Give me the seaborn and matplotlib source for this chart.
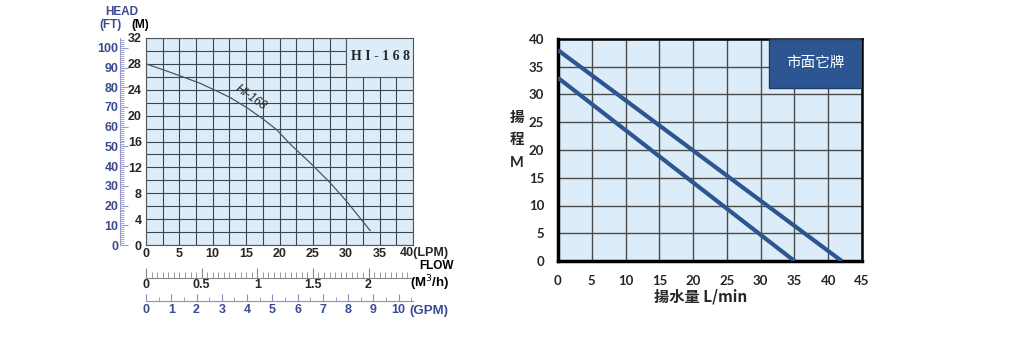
import numpy as np
import pandas as pd
import matplotlib
matplotlib.use("Agg")
import matplotlib.pyplot as plt
from matplotlib.ticker import MultipleLocator, FixedLocator
from matplotlib.patches import Rectangle
import seaborn as sns

sns.set_style("white")
plt.rcParams['font.family'] = ['Liberation Sans', 'Noto Sans CJK TC', 'DejaVu Sans']

# ---------------- data ----------------
# left chart: HI-168 pump curve
hi_flow_lpm = [0, 3.1, 5.5, 8.1, 10.6, 12.6, 15, 17.5, 19.6, 21.6, 24.8,
               27.6, 30.1, 31.5, 33.6]
hi_head_m = [28, 26.9, 26, 25, 23.8, 22.8, 21.3, 19.5, 17.8, 15.6, 12.5,
             9.6, 6.7, 4.9, 2.2]
left_xticks = [0, 5, 10, 15, 20, 25, 30, 35]
left_yticks = [0, 4, 8, 12, 16, 20, 24, 28, 32]
ft_ticks = [0, 10, 20, 30, 40, 50, 60, 70, 80, 90, 100]
m3h_ticks = [0, 0.5, 1, 1.5, 2]
m3h_labels = ['0', '0.5', '1', '1.5', '2']
gpm_ticks = [0, 1, 2, 3, 4, 5, 6, 7, 8, 9, 10]

# right chart: market brand curves
brand_a_flow = [0, 42]
brand_a_head = [38, 0]
brand_b_flow = [0, 35]
brand_b_head = [33, 0]
right_xticks = [0, 5, 10, 15, 20, 25, 30, 35, 40, 45]
right_yticks = [0, 5, 10, 15, 20, 25, 30, 35, 40]

W, H = 1024, 341
fig = plt.figure(figsize=(W / 100, H / 100), dpi=100)
fig.patch.set_facecolor('white')


def box(x0, y0, x1, y1):
    return [x0 / W, 1 - y1 / H, (x1 - x0) / W, (y1 - y0) / H]


BG = '#dcedf9'
BLUE_TXT = '#3b4a8f'
FS = 9

# ================= LEFT CHART =================
axL = fig.add_axes(box(146, 38, 413, 245))
axL.set_facecolor(BG)
df_hi = pd.DataFrame({'flow': hi_flow_lpm, 'head': hi_head_m})
sns.lineplot(data=df_hi, x='flow', y='head', ax=axL, color='#4a5566',
             linewidth=0.9, sort=False, zorder=3)
axL.set_xlim(0, 40)
axL.set_ylim(0, 32)
axL.set_xlabel('')
axL.set_ylabel('')
axL.xaxis.set_major_locator(FixedLocator(left_xticks))
axL.yaxis.set_major_locator(FixedLocator(left_yticks))
axL.xaxis.set_minor_locator(MultipleLocator(2.5))
axL.yaxis.set_minor_locator(MultipleLocator(2))
axL.grid(True, which='both', color='#3c4650', linewidth=0.8)
axL.tick_params(which='both', length=0)
axL.tick_params(axis='x', pad=2)
axL.tick_params(axis='y', pad=3)
for lab in axL.get_xticklabels() + axL.get_yticklabels():
    lab.set_fontweight('bold')
    lab.set_fontsize(FS)
for s in axL.spines.values():
    s.set_color('#555555')
    s.set_linewidth(0.8)
fig.text(400 / W, 1 - 253 / H, '40(LPM)', ha='left', va='center', fontsize=FS,
         fontweight='bold')

# HI-168 box
axL.add_patch(Rectangle((30, 26), 10, 6, facecolor=BG, edgecolor='#555555',
                        linewidth=0.8, zorder=4))
axL.text(35.1, 29.1, 'H I - 1 6 8', ha='center', va='center', fontsize=10,
         fontweight='bold', family='Liberation Serif', zorder=5)
axL.text(15.7, 22.8, 'HI-168', rotation=-35, ha='center', va='center',
         fontsize=8.5, style='italic', color='#222222', zorder=5)

# FT axis
secY = axL.secondary_yaxis(-0.097, functions=(lambda m: m * 3.28084,
                                               lambda f: f / 3.28084))
secY.yaxis.set_major_locator(FixedLocator(ft_ticks))
secY.yaxis.set_minor_locator(MultipleLocator(1))
secY.tick_params(which='major', direction='in', length=6, width=0.8,
                 color='#9a9ccc', labelcolor=BLUE_TXT, labelsize=FS, pad=1)
secY.tick_params(which='minor', direction='in', length=3, width=0.6,
                 color='#9a9ccc')
secY.spines['left'].set_color('#9a9ccc')
secY.spines['left'].set_linewidth(0.8)
for lab in secY.get_yticklabels():
    lab.set_fontweight('bold')

# M3/h axis
secX1 = axL.secondary_xaxis(-0.159, functions=(lambda l: l / 16.6667,
                                                lambda q: q * 16.6667))
secX1.xaxis.set_major_locator(FixedLocator(m3h_ticks))
secX1.set_xticklabels(m3h_labels)
secX1.xaxis.set_minor_locator(MultipleLocator(0.05))
secX1.tick_params(which='major', direction='in', length=7, width=0.8,
                  color='#888888', labelsize=FS, pad=1)
secX1.tick_params(which='minor', direction='in', length=4, width=0.6,
                  color='#888888')
secX1.spines['bottom'].set_color('#888888')
secX1.spines['bottom'].set_linewidth(0.8)
for lab in secX1.get_xticklabels():
    lab.set_fontweight('bold')

# GPM axis
secX2 = axL.secondary_xaxis(-0.2705, functions=(lambda l: l / 3.78541,
                                                 lambda g: g * 3.78541))
secX2.xaxis.set_major_locator(FixedLocator(gpm_ticks))
secX2.xaxis.set_minor_locator(MultipleLocator(0.5))
secX2.tick_params(which='major', direction='in', length=5, width=0.8,
                  color='#8a90c4', labelcolor=BLUE_TXT, labelsize=FS, pad=2)
secX2.tick_params(which='minor', direction='in', length=3, width=0.6,
                  color='#8a90c4')
secX2.spines['bottom'].set_color('#8a90c4')
secX2.spines['bottom'].set_linewidth(0.8)
for lab in secX2.get_xticklabels():
    lab.set_fontweight('bold')

# side texts
fig.text(122 / W, 1 - 12 / H, 'HEAD', ha='center', va='center', fontsize=8.5,
         fontweight='bold', color=BLUE_TXT)
fig.text(111 / W, 1 - 25 / H, '(FT)', ha='center', va='center', fontsize=8.5,
         fontweight='bold', color=BLUE_TXT)
fig.text(140 / W, 1 - 25 / H, '(M)', ha='center', va='center', fontsize=8.5,
         fontweight='bold', color='black')
fig.text(437 / W, 1 - 266 / H, 'FLOW', ha='center', va='center', fontsize=8.5,
         fontweight='bold', color='black')
fig.text(430 / W, 1 - 283 / H, '(M$^3$/h)', ha='center', va='center',
         fontsize=9.5, fontweight='bold', color='black')
fig.text(429 / W, 1 - 311 / H, '(GPM)', ha='center', va='center', fontsize=9.5,
         fontweight='bold', color=BLUE_TXT)

# ================= RIGHT CHART =================
LINE = '#2d5690'
axR = fig.add_axes(box(558, 39, 862, 261))
axR.set_facecolor(BG)
df_a = pd.DataFrame({'flow': brand_a_flow, 'head': brand_a_head})
df_b = pd.DataFrame({'flow': brand_b_flow, 'head': brand_b_head})
sns.lineplot(data=df_a, x='flow', y='head', ax=axR, color=LINE, linewidth=3,
             zorder=3, solid_capstyle='butt')
sns.lineplot(data=df_b, x='flow', y='head', ax=axR, color=LINE, linewidth=3,
             zorder=3, solid_capstyle='butt')
axR.set_xlim(0, 45)
axR.set_ylim(0, 40)
axR.set_xlabel('')
axR.set_ylabel('')
axR.xaxis.set_major_locator(FixedLocator(right_xticks))
axR.yaxis.set_major_locator(FixedLocator(right_yticks))
axR.grid(True, which='major', color='#4a4a4a', linewidth=1.0)
axR.tick_params(which='major', direction='out', length=4, width=1,
                color='#333333', labelsize=9.5, pad=6)
for lab in axR.get_xticklabels() + axR.get_yticklabels():
    lab.set_fontweight('bold')
    lab.set_family(['Lato', 'DejaVu Sans'])
for side, lw in [('left', 2.5), ('bottom', 2.5), ('top', 1.8), ('right', 1.8)]:
    axR.spines[side].set_color('black')
    axR.spines[side].set_linewidth(lw)
    axR.spines[side].set_visible(True)

axR.add_patch(Rectangle((31.3, 31.2), 13.7, 8.8, facecolor='#2d5592',
                        edgecolor='#1e3a66', linewidth=1, zorder=4))
axR.text(38.15, 35.6, '市面它牌', ha='center', va='center', color='white',
         fontsize=10.5, family=['Noto Sans CJK TC', 'DejaVu Sans'], zorder=5)

cjk = ['Noto Sans CJK TC', 'DejaVu Sans']
fig.text(517 / W, 1 - 117 / H, '揚', ha='center', va='center', fontsize=10.5,
         fontweight='bold', family=cjk)
fig.text(517 / W, 1 - 139 / H, '程', ha='center', va='center', fontsize=10.5,
         fontweight='bold', family=cjk)
fig.text(517 / W, 1 - 163 / H, 'M', ha='center', va='center', fontsize=10.5,
         fontweight='bold', family=['Lato', 'DejaVu Sans'])
fig.text(701 / W, 1 - 297 / H, '揚水量 L/min', ha='center', va='center',
         fontsize=11, fontweight='bold', family=['Noto Sans CJK TC', 'DejaVu Sans'])

fig.savefig('out.png', dpi=100, facecolor='white')
